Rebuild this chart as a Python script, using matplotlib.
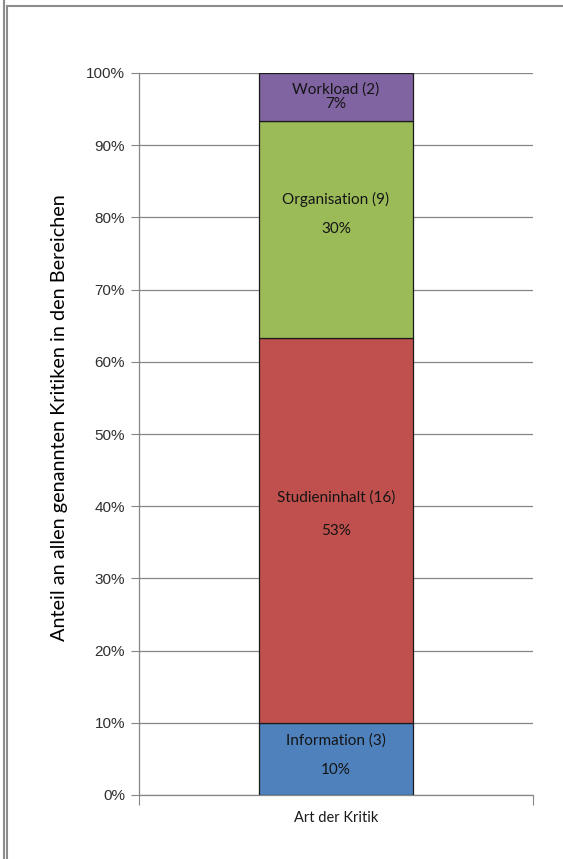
import numpy as np
import matplotlib.pyplot as plt
from matplotlib.lines import Line2D

plt.rcParams['font.family'] = ['Lato', 'DejaVu Sans']

bereiche = ['Information', 'Studieninhalt', 'Organisation', 'Workload']
anzahl = [3, 16, 9, 2]
farben = ['#4f81bd', '#c0504d', '#9bbb59', '#8064a2']
yticks = np.arange(0, 1.01, 0.1)

# label placement inside each segment (pixel offsets from segment centre)
name_dy = [18, 33, 30, 8]
pct_dy = [-11, -1, 0, -7]

anteil = np.array(anzahl) / sum(anzahl)
unten = np.concatenate([[0], np.cumsum(anteil)[:-1]])

fig = plt.figure(figsize=(5.63, 8.59), dpi=100)
ax = fig.add_axes([139 / 563, 64 / 859, 394 / 563, 722 / 859])

ax.bar(0, anteil, bottom=unten, width=0.393, color=farben,
       edgecolor='#1a1a1a', linewidth=0.9, zorder=3)

for i, name in enumerate(bereiche):
    mitte = unten[i] + anteil[i] / 2
    ax.annotate(f'{name} ({anzahl[i]})', (0, mitte), xytext=(0, name_dy[i]),
                textcoords='offset pixels', ha='center', va='center',
                fontsize=11, color='#141414', zorder=4)
    ax.annotate(f'{anteil[i] * 100:.0f}%', (0, mitte), xytext=(0, pct_dy[i]),
                textcoords='offset pixels', ha='center', va='center',
                fontsize=11, color='#141414', zorder=4)

ax.set_xlim(-0.5, 0.5)
ax.set_ylim(0, 1)
ax.set_yticks(yticks)
ax.set_yticklabels([f'{v * 100:.0f}%' for v in yticks],
                   family=['Liberation Sans', 'DejaVu Sans'])
ax.yaxis.grid(True, color='#868686', linewidth=0.9, zorder=0)
ax.set_xticks([-0.5, 0.5])
ax.set_xticklabels(['', ''])
ax.tick_params(axis='y', length=6, color='#868686', labelsize=11,
               labelcolor='#303030', pad=4)
ax.tick_params(axis='x', length=7, color='#868686')
ax.text(0, -0.022, 'Art der Kritik', ha='center', va='top',
        fontsize=10.5, color='#1a1a1a', transform=ax.transData)

for s in ['top', 'right']:
    ax.spines[s].set_visible(False)
for s in ['left', 'bottom']:
    ax.spines[s].set_color('#868686')
    ax.spines[s].set_linewidth(0.9)

ax.set_ylabel('Anteil an allen genannten Kritiken in den Bereichen',
              fontsize=14.3, color='#000000')
ax.yaxis.set_label_coords(-0.18, 0.523)

# frame around the chart
rahmen = dict(color='#8c8c8c', linewidth=1.5, transform=fig.transFigure)
fig.add_artist(Line2D([3.5 / 563, 3.5 / 563], [0, 1], **rahmen))
fig.add_artist(Line2D([7.5 / 563, 7.5 / 563], [0, 1 - 5.5 / 859], **rahmen))
fig.add_artist(Line2D([7.5 / 563, 1], [1 - 5.5 / 859, 1 - 5.5 / 859], **rahmen))

fig.savefig('out.png', dpi=100)
